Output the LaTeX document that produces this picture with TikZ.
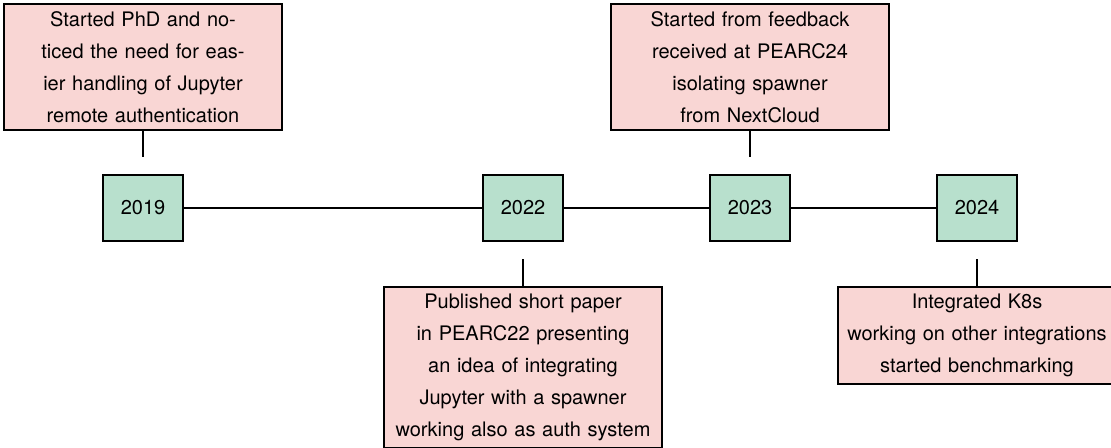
\documentclass[tikz,border=0pt]{standalone}
\usepackage{fontspec}
\setmainfont{TeX Gyre Heros}
\usepackage{xcolor}
\usepackage{tikz}
\usetikzlibrary{positioning}
\definecolor{yearfill}{HTML}{B8E0CD}
\definecolor{eventfill}{HTML}{F9D6D4}

\begin{document}
\begin{tikzpicture}[
        year/.style={
            draw,
            line width=1pt,
            fill=yearfill,
            minimum width=40pt,
            minimum height=33pt,
            font=\fontsize{10}{16}\selectfont
        },
        event/.style={
            draw,
            line width=1pt,
            fill=eventfill,
            text width=132pt,
            inner xsep=3.5pt,
            inner ysep=3.6pt,
            align=center,
            font=\fontsize{10}{16}\selectfont
        },
        link/.style={
            line width=1pt
        },
        node distance=22pt
    ]

    \useasboundingbox (0,0) rectangle (555.5pt,-223.5pt);

    \node[year] (y2019) at (71.5pt,-104pt) {2019};
    \node[year, right=149pt of y2019] (y2022) {2022};
    \node[year, right=72.5pt of y2022] (y2023) {2023};
    \node[year, right=72.5pt of y2023] (y2024) {2024};

    \draw[link] (y2019) -- (y2022) -- (y2023) -- (y2024);

    \node[event, above=21.5pt of y2019] (e2019) {Started PhD and no-\\ticed the need for eas-\\ier handling of Jupyter\\remote authentication};
    \node[event, below=22pt of y2022] (e2022) {Published short paper\\in PEARC22 presenting\\an idea of integrating\\Jupyter with a spawner\\working also as auth system};
    \node[event, above=21.5pt of y2023] (e2023) {Started from feedback\\received at PEARC24\\isolating spawner\\from NextCloud};
    \node[event, below=22pt of y2024] (e2024) {Integrated K8s\\working on other integrations\\started benchmarking};

    % short stems stop before the year boxes
    \coordinate (c2019) at ([yshift=8.5pt]y2019.north);
    \coordinate (c2022) at ([yshift=-8.5pt]y2022.south);
    \coordinate (c2023) at ([yshift=8.5pt]y2023.north);
    \coordinate (c2024) at ([yshift=-8.5pt]y2024.south);

    \draw[link] (e2019) -- (c2019);
    \draw[link] (e2022) -- (c2022);
    \draw[link] (e2023) -- (c2023);
    \draw[link] (e2024) -- (c2024);

\end{tikzpicture}
\end{document}
